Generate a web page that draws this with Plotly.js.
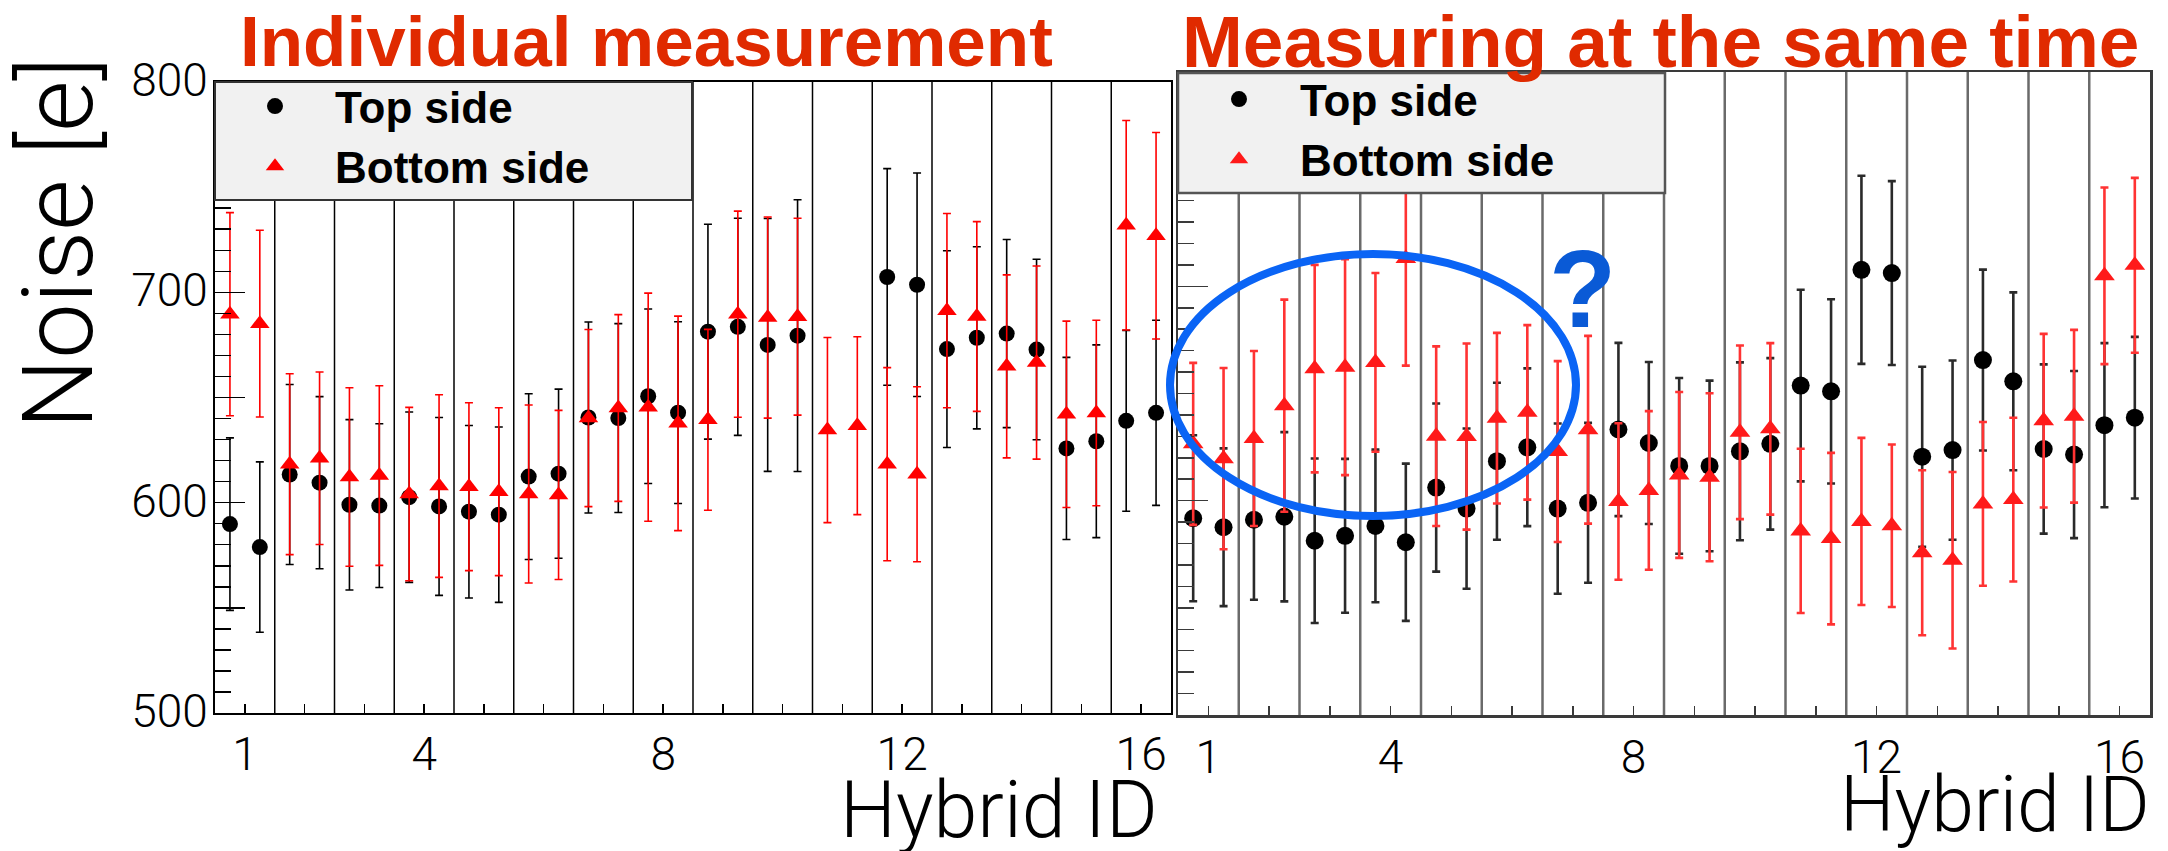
<!DOCTYPE html>
<html>
<head>
<meta charset="utf-8">
<script src="https://cdn.plot.ly/plotly-3.0.1.min.js"></script>
<style>
  html, body { margin: 0; padding: 0; background: #ffffff; }
  #chart { width: 2168px; height: 851px; }
</style>
</head>
<body>
<div id="chart"></div>
<script>
// ---------------- data ----------------
const hybridIds = [1, 2, 3, 4, 5, 6, 7, 8, 9, 10, 11, 12, 13, 14, 15, 16];
const chipOffsets = [-0.25, 0.25];           // two chips per hybrid
const xTickVals = [1, 4, 8, 12, 16];
const xTickText = ['1', '4', '8', '12', '16'];
const yTickVals = [500, 550, 600, 650, 700, 750, 800];
const yTickText = ['500', '', '600', '', '700', '', '800'];
const seriesNames = ['Top side', 'Bottom side'];
const panelTitles = ['Individual measurement', 'Measuring at the same time'];
const xTitle = 'Hybrid ID';
const yTitle = 'Noise [e]';

// Individual measurement (left panel), two chips per hybrid
const indivTop = [589.8, 578.9, 613.4, 609.5, 599.0, 598.6, 602.6, 598.2,
                  595.7, 594.3, 612.4, 613.8, 640.5, 640.2, 650.6, 642.8,
                  681.3, 683.6, 675.0, 679.4, null, null, 707.3, 703.6,
                  673.0, 678.4, 680.4, 672.8, 625.8, 629.2, 638.9, 642.7];
const indivTopErr = [41.0, 40.5, 42.8, 40.9, 40.5, 38.9, 40.5, 42.3,
                     41.0, 41.7, 39.4, 40.2, 45.4, 44.9, 41.5, 43.2,
                     51.1, 51.6, 60.1, 64.6, null, null, 51.5, 53.1,
                     46.8, 43.3, 44.7, 42.9, 43.3, 45.8, 43.0, 44.0];
const indivBottom = [689.6, 685.1, 618.3, 621.1, 612.2, 612.9, 604.1, 607.9,
                     607.6, 605.2, 604.1, 603.7, 640.2, 645.0, 645.4, 637.7,
                     639.4, 689.6, 688.0, 688.4, 634.5, 636.6, 618.3, 613.5,
                     691.3, 688.5, 664.8, 666.6, 642.0, 642.6, 731.9, 726.9];
const indivBottomErr = [48.3, 44.4, 43.0, 41.0, 42.4, 42.7, 41.2, 43.4,
                        39.9, 39.9, 42.3, 40.2, 42.1, 44.4, 54.2, 51.0,
                        43.0, 49.0, 47.8, 46.8, 44.0, 42.3, 45.9, 41.6,
                        46.2, 45.1, 43.5, 45.9, 44.3, 44.1, 49.8, 49.1];

// Measuring at the same time (right panel)
const simulTop = [591.8, 587.6, 591.1, 592.5, 581.3, 583.6, 588.2, 580.6,
                  606.1, 596.3, 618.4, 624.9, 596.3, 599.0, 633.2, 626.9,
                  616.2, 616.2, 623.0, 626.5, 653.7, 651.0, 707.7, 706.2,
                  620.5, 623.6, 665.6, 655.7, 624.1, 621.5, 635.2, 638.7];
const simulTopErr = [38.7, 36.8, 37.3, 39.5, 38.4, 35.9, 35.6, 36.7,
                     39.2, 37.4, 36.6, 36.8, 39.7, 37.3, 40.4, 37.8,
                     41.0, 39.8, 41.5, 40.0, 44.7, 43.0, 43.9, 42.9,
                     42.0, 41.8, 42.2, 41.5, 39.5, 39.0, 38.3, 37.7];
const simulBottom = [626.5, 619.6, 629.0, 644.3, 661.6, 662.3, 664.5, 713.0,
                     630.1, 629.9, 638.5, 641.2, 622.9, 633.1, 599.6, 604.8,
                     612.0, 610.9, 631.9, 633.5, 585.9, 582.3, 590.3, 588.3,
                     575.7, 572.2, 598.5, 600.5, 637.3, 639.4, 704.9, 709.8];
const simulBottomErr = [37.8, 42.3, 40.8, 49.5, 48.4, 50.4, 41.7, 50.0,
                        41.9, 43.4, 39.8, 40.7, 42.2, 43.8, 36.5, 37.0,
                        38.7, 39.2, 40.5, 40.0, 38.3, 40.0, 39.0, 37.9,
                        38.5, 41.2, 38.2, 38.2, 40.5, 40.3, 41.2, 40.8];

// ---------------- drawing ----------------
const W = 2168, H = 851;
const chipX = hybridIds.flatMap(h => chipOffsets.map(o => h + o));
const separators = hybridIds.slice(0, -1).map(h => h + 0.5);

const LIGHT = {family: 'Roboto, Liberation Sans, sans-serif', weight: 300, color: '#000'};
const BOLD = 'Liberation Sans, Arial, sans-serif';

function errTrace(y, err, name, xa, ya, legend, marker, ecolor, ethick) {
  return {
    type: 'scatter', mode: 'markers', x: chipX, y: y, name: name,
    xaxis: xa, yaxis: ya, legend: legend, cliponaxis: true,
    marker: marker,
    error_y: {type: 'data', array: err, visible: true, color: ecolor, thickness: ethick, width: 4},
    hoverinfo: 'x+y'
  };
}

const traces = [
  errTrace(indivTop, indivTopErr, seriesNames[0], 'x', 'y', 'legend',
           {symbol: 'circle', size: 16, color: '#000'}, '#000', 1.6),
  errTrace(indivBottom, indivBottomErr, seriesNames[1], 'x', 'y', 'legend',
           {symbol: 'triangle-up', size: 17, color: '#ff0000'}, '#ff0000', 1.6),
  errTrace(simulTop, simulTopErr, seriesNames[0], 'x2', 'y2', 'legend2',
           {symbol: 'circle', size: 18, color: '#000'}, '#2a2a2a', 2.6),
  errTrace(simulBottom, simulBottomErr, seriesNames[1], 'x2', 'y2', 'legend2',
           {symbol: 'triangle-up', size: 18, color: '#ff1a1a'}, '#ff3333', 2.6)
];

function xAxis(domain, anchor, lineColor, lw) {
  return {
    domain: domain, anchor: anchor, range: [0.5, 16.5],
    tickmode: 'array', tickvals: xTickVals, ticktext: xTickText,
    ticks: 'inside', ticklen: 9, tickwidth: 1.5, tickcolor: lineColor,
    ticklabelstandoff: 0,
    tickfont: Object.assign({size: 46}, LIGHT),
    minor: {dtick: 1, tick0: 0, ticks: 'inside', ticklen: 9, tickwidth: 1.5, tickcolor: lineColor, showgrid: false},
    showgrid: false, zeroline: false,
    showline: true, linecolor: lineColor, linewidth: lw, mirror: true
  };
}
function yAxis(domain, anchor, lineColor, lw, showLabels) {
  return {
    domain: domain, anchor: anchor, range: [500, 800],
    tickmode: 'array', tickvals: yTickVals, ticktext: yTickText,
    ticks: 'inside', ticklen: 30, tickwidth: 1.5, tickcolor: lineColor,
    showticklabels: showLabels,
    ticklabelshift: -2, ticklabelstandoff: -4,
    tickfont: Object.assign({size: 46}, LIGHT),
    minor: {dtick: 10, tick0: 500, ticks: 'inside', ticklen: 16, tickwidth: 1.5, tickcolor: lineColor, showgrid: false},
    showgrid: false, zeroline: false,
    showline: true, linecolor: lineColor, linewidth: lw, mirror: true
  };
}

const shapes = [];
separators.forEach(s => {
  shapes.push({type: 'line', xref: 'x', yref: 'y domain', x0: s, x1: s, y0: 0, y1: 1,
               line: {color: '#000', width: 1.5}, layer: 'below'});
  shapes.push({type: 'line', xref: 'x2', yref: 'y2 domain', x0: s, x1: s, y0: 0, y1: 1,
               line: {color: '#6a6a6a', width: 2.5}, layer: 'below'});
});
// legend boxes
shapes.push({type: 'rect', xref: 'paper', yref: 'paper', layer: 'above',
             x0: 215 / W, x1: 692 / W, y0: 1 - 200 / H, y1: 1 - 82 / H,
             fillcolor: '#f1f1f1', line: {color: '#333', width: 2}});
shapes.push({type: 'rect', xref: 'paper', yref: 'paper', layer: 'above',
             x0: 1178 / W, x1: 1665 / W, y0: 1 - 193 / H, y1: 1 - 73 / H,
             fillcolor: '#f1f1f1', line: {color: '#555', width: 2.5}});
// blue highlight ellipse
shapes.push({type: 'circle', xref: 'paper', yref: 'paper', layer: 'above',
             x0: 1170 / W, x1: 1576 / W, y0: 1 - 516 / H, y1: 1 - 254 / H,
             line: {color: '#0a64f5', width: 8}});

const annotations = [
  {text: panelTitles[0], xref: 'paper', yref: 'paper', x: 238 / W, y: 1 - 42 / H,
   xanchor: 'left', yanchor: 'middle', showarrow: false,
   font: {family: BOLD, size: 71, weight: 'bold', color: '#e02a00'}},
  {text: panelTitles[1], xref: 'paper', yref: 'paper', x: 1180 / W, y: 1 - 41 / H,
   xanchor: 'left', yanchor: 'middle', showarrow: false,
   font: {family: BOLD, size: 73, weight: 'bold', color: '#e02a00'}},
  {text: yTitle, xref: 'paper', yref: 'paper', x: 58 / W, y: 1 - 243 / H,
   xanchor: 'center', yanchor: 'middle', textangle: -90, showarrow: false,
   font: Object.assign({}, LIGHT, {size: 99})},
  {text: xTitle, xref: 'paper', yref: 'paper', x: 1160 / W, y: 1 - 810 / H,
   xanchor: 'right', yanchor: 'middle', showarrow: false,
   font: Object.assign({}, LIGHT, {size: 79})},
  {text: xTitle, xref: 'paper', yref: 'paper', x: 2152 / W, y: 1 - 805 / H,
   xanchor: 'right', yanchor: 'middle', showarrow: false,
   font: Object.assign({}, LIGHT, {size: 77})},
  {text: '?', xref: 'paper', yref: 'paper', x: 1582 / W, y: 1 - 288 / H,
   xanchor: 'center', yanchor: 'middle', showarrow: false,
   font: {family: BOLD, size: 110, weight: 'bold', color: '#0a5ad6'}}
];

const legendFont = {family: BOLD, size: 44, weight: 'bold', color: '#000'};
const layout = {
  width: W, height: H,
  margin: {l: 0, r: 0, t: 0, b: 0, pad: 0},
  paper_bgcolor: '#ffffff', plot_bgcolor: '#ffffff',
  showlegend: true,
  xaxis: xAxis([215 / W, 1171 / W], 'y', '#000', 2),
  yaxis: yAxis([1 - 713 / H, 1 - 82 / H], 'x', '#000', 2, true),
  xaxis2: xAxis([1178 / W, 2150 / W], 'y2', '#3a3a3a', 2.5),
  yaxis2: yAxis([1 - 715 / H, 1 - 72 / H], 'x2', '#3a3a3a', 2.5, false),
  legend: {x: 215 / W, y: 1 - 71 / H, xanchor: 'left', yanchor: 'top',
           bgcolor: 'rgba(0,0,0,0)', borderwidth: 0, itemwidth: 110,
           font: legendFont, tracegroupgap: 0},
  legend2: {x: 1178 / W, y: 1 - 64 / H, xanchor: 'left', yanchor: 'top',
            bgcolor: 'rgba(0,0,0,0)', borderwidth: 0, itemwidth: 112,
            font: legendFont, tracegroupgap: 0},
  shapes: shapes,
  annotations: annotations
};

Plotly.newPlot('chart', traces, layout, {displayModeBar: false, staticPlot: true});
</script>
</body>
</html>
